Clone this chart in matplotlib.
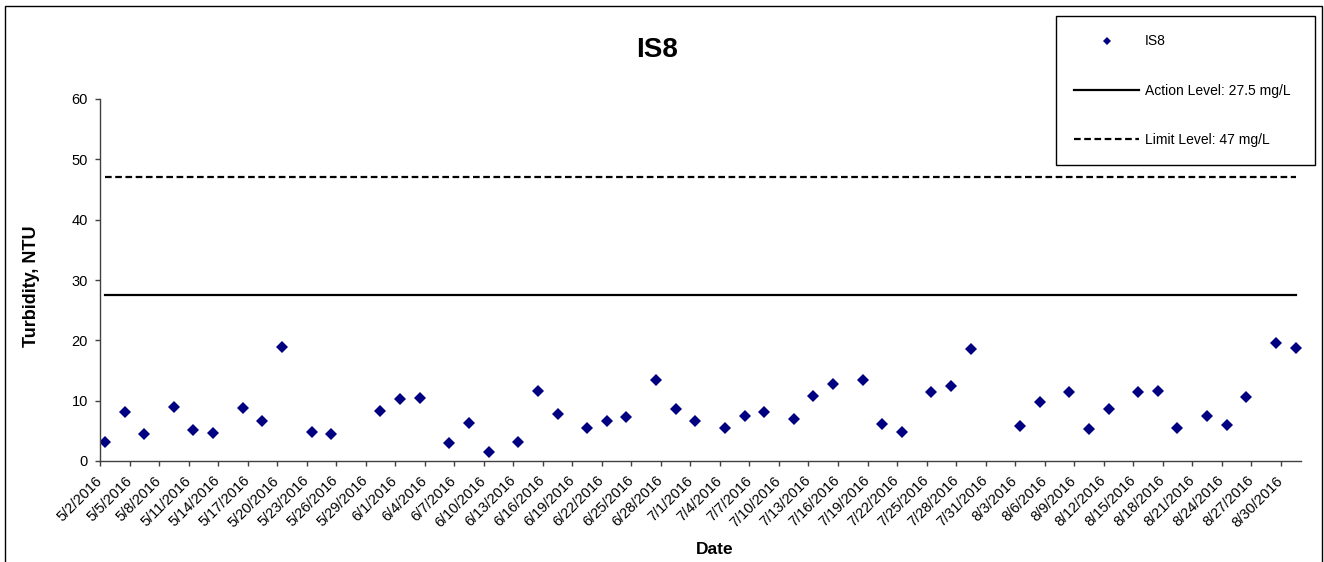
import pandas as pd
import numpy as np
import matplotlib
matplotlib.use('Agg')
import matplotlib.pyplot as plt
import matplotlib.transforms as mtransforms
from matplotlib.patches import Rectangle

# sample dates and turbidity readings (NTU)
sample_dates = [
    '2016-05-02', '2016-05-04', '2016-05-06', '2016-05-09', '2016-05-11', '2016-05-13',
    '2016-05-16', '2016-05-18', '2016-05-20', '2016-05-23', '2016-05-25', '2016-05-30',
    '2016-06-01', '2016-06-03', '2016-06-06', '2016-06-08', '2016-06-10', '2016-06-13',
    '2016-06-15', '2016-06-17', '2016-06-20', '2016-06-22', '2016-06-24', '2016-06-27',
    '2016-06-29', '2016-07-01', '2016-07-04', '2016-07-06', '2016-07-08', '2016-07-11',
    '2016-07-13', '2016-07-15', '2016-07-18', '2016-07-20', '2016-07-22', '2016-07-25',
    '2016-07-27', '2016-07-29', '2016-08-03', '2016-08-05', '2016-08-08', '2016-08-10',
    '2016-08-12', '2016-08-15', '2016-08-17', '2016-08-19', '2016-08-22', '2016-08-24',
    '2016-08-26', '2016-08-29', '2016-08-31',
]
turbidity = [
    3.2, 8.1, 4.4, 8.9, 5.2, 4.6,
    8.8, 6.6, 18.85, 4.75, 4.4, 8.35,
    10.2, 10.5, 3.0, 6.3, 1.45, 3.15,
    11.6, 7.8, 5.4, 6.6, 7.3, 13.5,
    8.7, 6.7, 5.5, 7.4, 8.1, 7.0,
    10.7, 12.8, 13.4, 6.1, 4.8, 11.5,
    12.5, 18.5, 5.75, 9.7, 11.5, 5.3,
    8.7, 11.4, 11.6, 5.4, 7.5, 5.9,
    10.55, 19.55, 18.7,
]
action_level = 27.5
limit_level = 47

# axis range (day slots) and tick labels every 3 days
axis_start = '2016-05-02'
axis_end = '2016-09-01'
tick_dates = pd.date_range('2016-05-02', '2016-08-30', freq='3D')
tick_labels = [f'{d.month}/{d.day}/{d.year}' for d in tick_dates]
y_ticks = [0, 10, 20, 30, 40, 50, 60]

fontName = 'Liberation Sans'
plt.rcParams.update({'font.family': fontName})

W, H = 1324, 562
fig = plt.figure(figsize=(W / 100, H / 100), dpi=100)
ax = fig.add_axes([100 / W, (H - 461) / H, 1200.5 / W, 362 / H])

# points sit in the middle of each day slot (category date axis)
half_day = pd.Timedelta(hours=12)
x = pd.to_datetime(sample_dates) + half_day
ax.plot(x, turbidity, linestyle='none', marker='D', markersize=6.6,
        color='#000080', markeredgewidth=0, label='IS8')

x_lvl = [x[0], x[-1]]
ax.plot(x_lvl, [action_level] * 2, color='black', lw=1.6,
        label='Action Level: 27.5 mg/L')
ax.plot(x_lvl, [limit_level] * 2, color='black', lw=1.6, dashes=(3, 1.6),
        label='Limit Level: 47 mg/L')

ax.set_xlim(pd.Timestamp(axis_start), pd.Timestamp(axis_end))
ax.set_ylim(0, 60)
ax.set_yticks(y_ticks)
ax.set_xticks(tick_dates)
ax.set_xticklabels(tick_labels, rotation=45, ha='right', va='center',
                   rotation_mode='anchor')
offset = mtransforms.ScaledTranslation(10 / 100, 0, fig.dpi_scale_trans)
for lbl in ax.get_xticklabels():
    lbl.set_transform(lbl.get_transform() + offset)

for s in ['top', 'right']:
    ax.spines[s].set_visible(False)
for s in ['left', 'bottom']:
    ax.spines[s].set_color('#404040')
    ax.spines[s].set_linewidth(1)
ax.tick_params(axis='both', direction='out', length=3.6, width=1, color='#404040',
               labelsize=10.5)
ax.tick_params(axis='x', pad=9)
ax.tick_params(axis='y', pad=5)

fig.text(32 / W, 1 - 286 / H, 'Turbidity, NTU', fontsize=13, fontweight='bold',
         rotation=90, ha='center', va='center')
fig.text(715 / W, 1 - 549 / H, 'Date', fontsize=12.5, fontweight='bold',
         ha='center', va='center')
fig.text(657 / W, 1 - 50 / H, 'IS8', fontsize=20, fontweight='bold',
         ha='center', va='center')

# legend
handles, labels = ax.get_legend_handles_labels()
leg = fig.legend(handles, labels, loc='upper left',
                 bbox_to_anchor=(1056 / W, 1 - 17 / H, 259 / W, 0.001),
                 mode='expand', fontsize=10, frameon=True, fancybox=False,
                 edgecolor='black', framealpha=1, labelspacing=2.54,
                 handlelength=4.68, handletextpad=0.43, borderpad=1.3,
                 borderaxespad=0, markerscale=0.55)
leg.get_frame().set_linewidth(1)

# outer chart border
fig.patches.append(Rectangle((5 / W, -0.1), (1322 - 5) / W, 1.1 - 6 / H,
                             transform=fig.transFigure, fill=False,
                             edgecolor='black', lw=1))

fig.savefig('out.png', dpi=100)
